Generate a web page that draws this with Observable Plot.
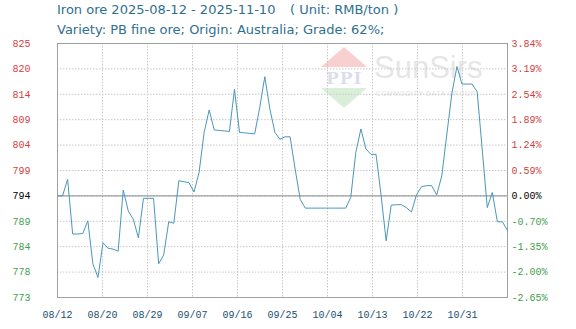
<!DOCTYPE html>
<html><head><meta charset="utf-8">
<script src="https://cdn.jsdelivr.net/npm/d3@7"></script>
<script src="https://cdn.jsdelivr.net/npm/@observablehq/plot@0.6"></script>
<style>
body{margin:0;background:#fff;width:576px;height:329px;overflow:hidden;position:relative;font-family:"DejaVu Sans",sans-serif}
.t{position:absolute;font-size:13px;color:#2f6f8e;white-space:pre;line-height:16px}
#chart{position:absolute;left:0;top:38px}
.wm{position:absolute;pointer-events:none}
</style></head><body>
<div class="t" id="t1" style="left:57px;top:2px"></div>
<div class="t" id="t2" style="left:290px;top:2px"></div>
<div class="t" id="t3" style="left:57px;top:22px"></div>
<div class="wm" style="left:321px;top:47px;width:0;height:0;border-left:23px solid transparent;border-right:23px solid transparent;border-bottom:20px solid rgba(240,150,150,0.45)"></div>
<div class="wm" style="left:326px;top:68px;font:bold 17px 'DejaVu Serif';color:rgba(150,160,200,0.35);letter-spacing:1px">PPI</div>
<div class="wm" style="left:321px;top:88px;width:0;height:0;border-left:23px solid transparent;border-right:23px solid transparent;border-top:20px solid rgba(150,210,150,0.35)"></div>
<div class="wm" style="left:374px;top:50px;font:31px 'Liberation Sans';color:rgba(200,200,200,0.45)">SunSirs</div>
<div class="wm" style="left:376px;top:90px;font:6.5px 'Liberation Sans';color:rgba(190,190,190,0.5);letter-spacing:0.8px">COMMODITY DATA GROUP</div>
<div id="chart"></div>
<script>
const titleMain = "Iron ore 2025-08-12 - 2025-11-10";
const titleUnit = "( Unit: RMB/ton )";
const subtitle = "Variety: PB fine ore; Origin: Australia; Grade: 62%;";
const prices = [
 793.8,793.8,797.2,786.0,786.0,786.1,788.7,779.9,777.1,784.2,
 783.1,782.9,782.5,795.0,790.7,789.0,785.2,793.3,793.3,793.3,
 779.9,781.7,788.5,788.2,796.9,796.7,796.5,794.6,798.6,806.8,
 811.4,807.3,807.2,807.1,807.0,815.6,806.8,806.7,806.6,806.5,
 811.9,818.2,811.6,806.8,805.4,805.9,805.9,799.3,793.1,791.3,
 791.3,791.3,791.3,791.3,791.3,791.3,791.3,791.3,793.5,802.7,
 807.5,803.4,802.3,802.3,793.9,784.6,791.9,792.0,792.0,791.4,
 790.5,794.0,795.7,795.9,795.9,794.0,797.9,806.4,814.8,820.3,
 816.7,816.7,816.7,815.1,803.3,791.4,794.5,788.5,788.5,786.7
];
const xLabels = ["08/12","08/20","08/29","09/07","09/16","09/25","10/04","10/13","10/22","10/31"];
const leftLabels = ["773","778","784","789","794","799","804","809","814","820","825"];
const rightLabels = ["-2.65%","-2.00%","-1.35%","-0.70%","0.00%","0.59%","1.24%","1.89%","2.54%","3.19%","3.84%"];

document.getElementById("t1").textContent = titleMain;
document.getElementById("t2").textContent = titleUnit;
document.getElementById("t3").textContent = subtitle;

const yMin = +leftLabels[0], yMax = +leftLabels[leftLabels.length-1];
const nY = leftLabels.length - 1;
const yTicks = d3.range(nY + 1).map(i => yMin + i*(yMax - yMin)/nY);
const n = prices.length - 1;
const xTicks = xLabels.map((_, i) => i*n/10);
const base = prices[0];
const zeroIdx = rightLabels.indexOf("0.00%");
const colorFor = i => i > zeroIdx ? "#d23f3f" : i === zeroIdx ? "#000000" : "#46a04f";
const data = prices.map((v, i) => ({i, v}));

const chart = Plot.plot({
  width: 576, height: 291,
  marginTop: 5, marginBottom: 32, marginLeft: 57, marginRight: 69,
  x: {domain: [0, n], axis: null},
  y: {domain: [yMin, yMax], axis: null},
  color: {type: "identity"},
  style: {fontFamily: "'Liberation Mono', monospace", fontSize: "10px", background: "transparent"},
  marks: [
    Plot.ruleY(yTicks.slice(1, -1), {stroke: "#c8c8c8", strokeDasharray: "1.5,1.5", strokeWidth: 1}),
    Plot.ruleX(xTicks.slice(1), {stroke: "#c8c8c8", strokeDasharray: "1.5,1.5", strokeWidth: 1}),
    Plot.ruleY([base], {stroke: "#8a8a8a", strokeWidth: 1}),
    Plot.frame({stroke: "#a0a0a0", strokeWidth: 1}),
    Plot.line(data, {x: "i", y: "v", stroke: "#4a97bb", strokeWidth: 1}),
    Plot.text(yTicks, {y: d => d, text: (d, i) => leftLabels[i], frameAnchor: "left", dx: -45, textAnchor: "start", fill: (d, i) => colorFor(i)}),
    Plot.text(yTicks, {y: d => d, text: (d, i) => rightLabels[i], frameAnchor: "right", dx: 4, textAnchor: "start", fill: (d, i) => colorFor(i)}),
    Plot.text(xTicks, {x: d => d, text: (d, i) => xLabels[i], frameAnchor: "bottom", dy: 20, fill: "#21506e"})
  ]
});
document.getElementById("chart").appendChild(chart);
</script>
</body></html>
